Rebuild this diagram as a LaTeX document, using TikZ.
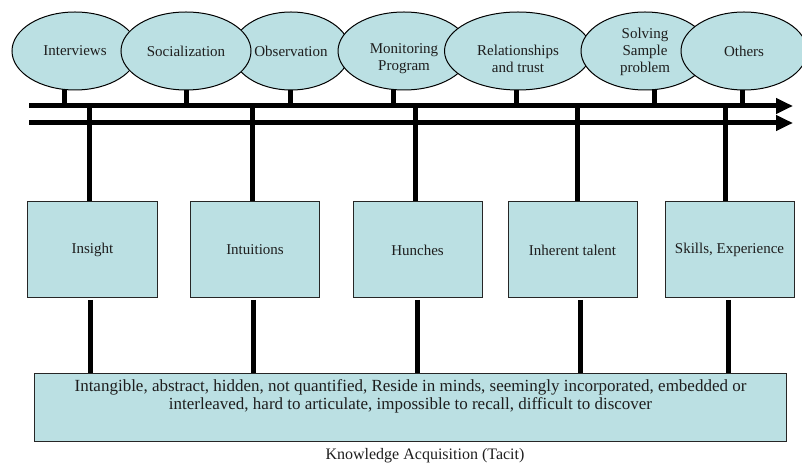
\documentclass[tikz,border=0pt]{standalone}
\usepackage{fontspec}
\setmainfont{Liberation Serif}
\usetikzlibrary{shapes.geometric,arrows.meta}
\definecolor{fillblue}{RGB}{187,224,227}
\definecolor{ink}{RGB}{30,30,30}
\pgfdeclarelayer{background}
\pgfsetlayers{background,main}
\begin{document}
\begin{tikzpicture}[x=1bp,y=-1bp,
  ell/.style={ellipse,draw=black,line width=1bp,fill=fillblue,minimum height=78bp,inner sep=0pt},
  lbl/.style={font=\fontsize{15bp}{17bp}\selectfont,align=center,inner sep=0pt,text=ink},
  sbox/.style={draw=black!85,line width=1bp,fill=fillblue,minimum width=129bp,minimum height=96bp,inner sep=0pt,font=\fontsize{15bp}{17bp}\selectfont,text=ink},
  bar/.style={line width=5bp,draw=black},
  tip/.style={-{Triangle[length=17bp,width=15bp]}}]
\useasboundingbox (0,0) rectangle (802,464);

% ellipses (draw order = stacking)
\node[ell,minimum width=126bp] (iv) at (75,51) {};
\node[ell,minimum width=118bp] (ob) at (291,51) {};
\node[ell,minimum width=130bp] (so) at (186,51) {};
\node[ell,minimum width=132bp] (mo) at (404,51) {};
\node[ell,minimum width=147bp] (re) at (518,51) {};
\node[ell,minimum width=128bp] (sv) at (645,51) {};
\node[ell,minimum width=126bp] (ot) at (744,51) {};

\node[lbl] (ivt) at (iv.center) {Interviews};
\node[lbl] (sot) at (so.center) {Socialization};
\node[lbl] (obt) at (ob.center) {Observation};
\node[lbl] (mot) at ([yshift=-8bp]mo.center) {Monitoring\\Program};
\node[lbl] (ret) at ([yshift=-8bp]re.center) {Relationships\\and trust};
\node[lbl] (svt) at ([yshift=-0.5bp]sv.center) {Solving\\Sample\\problem};
\node[lbl] (ott) at (ot.center) {Others};

% stems from ellipses to the top line
\coordinate (e1) at (64,106);
\coordinate (e2) at (186,106);
\coordinate (e3) at (290,106);
\coordinate (e4) at (393,106);
\coordinate (e5) at (516,106);
\coordinate (e6) at (654,106);
\coordinate (e7) at (742,106);
\begin{pgfonlayer}{background}
\draw[bar] (e1) -- (e1 |- iv.center);
\draw[bar] (e2) -- (e2 |- so.center);
\draw[bar] (e3) -- (e3 |- ob.center);
\draw[bar] (e4) -- (e4 |- mo.center);
\draw[bar] (e5) -- (e5 |- re.center);
\draw[bar] (e6) -- (e6 |- sv.center);
\draw[bar] (e7) -- (e7 |- ot.center);
\end{pgfonlayer}

% two arrows
\coordinate (l1s) at (29,106);
\coordinate (l1e) at (793,106);
\coordinate (l2s) at (29,123);
\coordinate (l2e) at (793,123);
\draw[bar,tip] (l1s) -- (l1e);
\draw[bar,tip] (l2s) -- (l2e);

% boxes
\node[sbox] (b1) at (92.5,250) {Insight};
\node[sbox] (b2) at (255,250) {Intuitions};
\node[sbox] (b3) at (417.5,250) {Hunches};
\node[sbox] (b4) at (572.5,250) {Inherent talent};
\node[sbox] (b5) at (729.5,250) {Skills, Experience};

\node[draw=black!85,line width=1bp,fill=fillblue,minimum width=751bp,minimum height=67bp,inner sep=0pt] (bot) at (410.5,407.5) {};
\node[lbl,font=\fontsize{17bp}{18bp}\selectfont] (bott) at (410.5,396) {Intangible, abstract, hidden, not quantified, Reside in minds, seemingly incorporated, embedded or\\interleaved, hard to articulate, impossible to recall, difficult to discover};

\node[lbl,font=\fontsize{16bp}{18bp}\selectfont] (cap) at (425,456) {Knowledge Acquisition (Tacit)};

% verticals from the top line to the boxes
\coordinate (t1) at (89,106);
\coordinate (t2) at (252,106);
\coordinate (t3) at (415,106);
\coordinate (t4) at (577,106);
\coordinate (t5) at (725,106);
\draw[bar] (t1) -- (t1 |- b1.north);
\draw[bar] (t2) -- (t2 |- b2.north);
\draw[bar] (t3) -- (t3 |- b3.north);
\draw[bar] (t4) -- (t4 |- b4.north);
\draw[bar] (t5) -- (t5 |- b5.north);

% verticals from the boxes to the bottom box
\coordinate (u1) at (90,300);
\coordinate (u2) at (253,300);
\coordinate (u3) at (417,300);
\coordinate (u4) at (580,300);
\coordinate (u5) at (728,300);
\draw[bar] (u1) -- (u1 |- bot.north);
\draw[bar] (u2) -- (u2 |- bot.north);
\draw[bar] (u3) -- (u3 |- bot.north);
\draw[bar] (u4) -- (u4 |- bot.north);
\draw[bar] (u5) -- (u5 |- bot.north);
\end{tikzpicture}
\end{document}
